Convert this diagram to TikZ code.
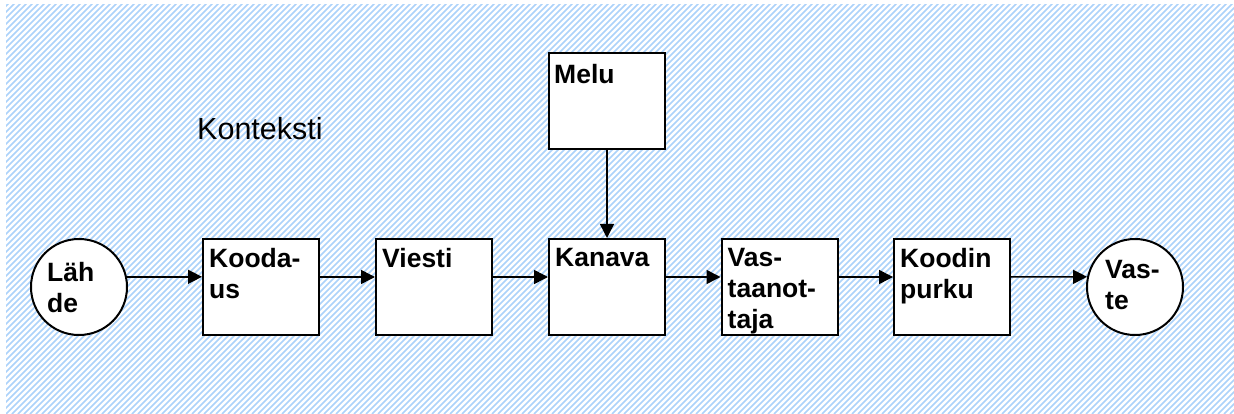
\documentclass[tikz,border=0pt]{standalone}
\usepackage{fontspec}
\setmainfont{Liberation Sans}
\usetikzlibrary{arrows.meta}
\definecolor{hatchc}{RGB}{172,210,250}
\begin{document}
\begin{tikzpicture}[x=1pt,y=-1pt,
  box/.style={draw,fill=white,line width=2pt,minimum width=116pt,minimum height=96pt,inner sep=0pt},
  circ/.style={draw,fill=white,circle,line width=2pt,minimum size=96pt,inner sep=0pt},
  lbl/.style={anchor=north west,inner sep=0pt,align=left,font=\fontsize{26.5}{31}\selectfont\bfseries},
  arr/.style={line width=1.5pt,-{Triangle[length=14pt,width=14pt]}},
  hatch/.style={line width=1.6pt,color=hatchc}]
\useasboundingbox (0,0) rectangle (1234,414);
\begin{scope}
  \clip (6,5) rectangle (1234,414);
  \foreach \i in {-420,-414,...,1240} \draw[hatch] (\i,414) -- ({\i+414},0);
\end{scope}
\node[anchor=base west,inner sep=0pt,font=\fontsize{30.5}{36}\selectfont] (ctx) at (197,140) {Konteksti};
\node[circ] (lah) at (79,287) {};
\node[box] (kood) at (261,287) {};
\node[box] (viesti) at (434,287) {};
\node[box] (kanava) at (607,287) {};
\node[box] (vast) at (779.5,287) {};
\node[box] (koodin) at (952,287) {};
\node[circ] (vaste) at (1135,287) {};
\node[box] (melu) at (607,101.5) {};
\node[lbl] (lah-t) at ([shift={(17,-25)}]lah.west) {Läh\\de};
\node[lbl] (kood-t) at ([shift={(7,10)}]kood.north west) {Kooda-\\us};
\node[lbl] (viesti-t) at ([shift={(7,10)}]viesti.north west) {Viesti};
\node[lbl] (kanava-t) at ([shift={(7,10)}]kanava.north west) {Kanava};
\node[lbl] (vast-t) at ([shift={(7,10)}]vast.north west) {Vas-\\taanot-\\taja};
\node[lbl] (koodin-t) at ([shift={(7,10)}]koodin.north west) {Koodin\\purku};
\node[lbl] (vaste-t) at ([shift={(19,-27)}]vaste.west) {Vas-\\te};
\node[lbl] (melu-t) at ([shift={(6,12)}]melu.north west) {Melu};
\draw[arr] (lah.12) -- (lah.12 -| kood.west);
\draw[arr] ([yshift=10pt]kood.east) -- ([yshift=10pt]viesti.west);
\draw[arr] ([yshift=10pt]viesti.east) -- ([yshift=10pt]kanava.west);
\draw[arr] ([yshift=10pt]kanava.east) -- ([yshift=10pt]vast.west);
\draw[arr] ([yshift=10pt]vast.east) -- ([yshift=10pt]koodin.west);
\draw[arr] ([yshift=10pt]koodin.east) -- (vaste.168);
\draw[arr] (melu) -- (kanava);
\end{tikzpicture}
\end{document}
